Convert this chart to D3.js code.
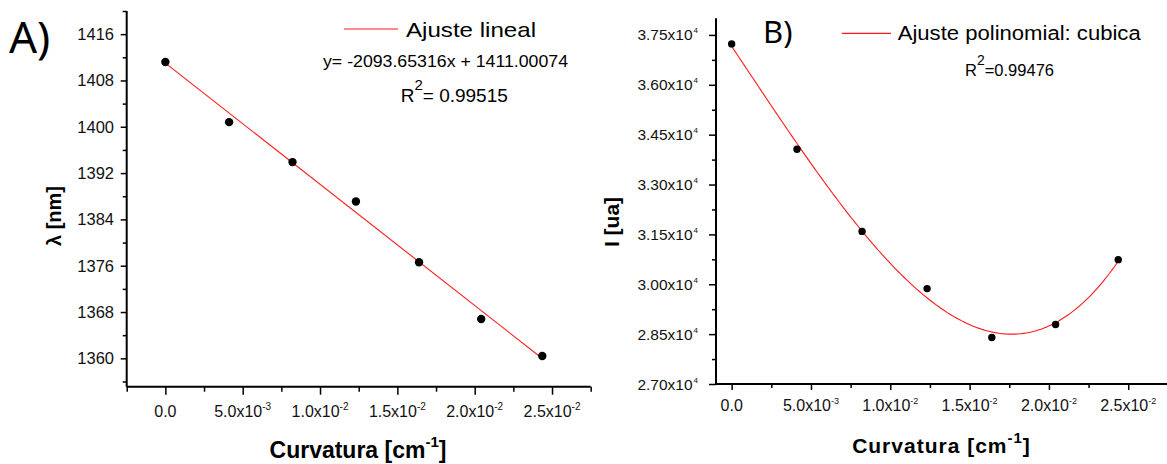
<!DOCTYPE html>
<html><head><meta charset="utf-8">
<script src="https://cdn.jsdelivr.net/npm/d3@7"></script>
<style>
html,body{margin:0;padding:0;background:#fff;}
svg{display:block;font-family:"Liberation Sans",Arial,sans-serif;}
</style></head>
<body>
<svg id="c" width="1167" height="464"></svg>
<script>
// ---------- data ----------
const curvature = [0, 0.00412, 0.00822, 0.01232, 0.01640, 0.02042, 0.02437];
const wavelength = [1411.2, 1400.8, 1393.9, 1387.1, 1376.6, 1366.8, 1360.4];
const intensity = [37230, 34060, 31590, 29870, 28400, 28790, 30740];
const linearSlope = -2093.65316;
const linearIntercept = 1411.00074;
const xTicks = [0, 0.005, 0.01, 0.015, 0.02, 0.025];
const yTicksA = [1360, 1368, 1376, 1384, 1392, 1400, 1408, 1416];
const yTicksB = [27000, 28500, 30000, 31500, 33000, 34500, 36000, 37500];
const legendA = "Ajuste lineal";
const equationA = "y= -2093.65316x + 1411.00074";
const r2A = "0.99515";
const legendB = "Ajuste polinomial: cubica";
const r2B = "0.99476";

const svg = d3.select("#c");
const red = "#ff1a1a";

// ---------- helpers ----------
function sciParts(v, digits){
  if (v === 0) return ["0.0", null];
  const e = Math.floor(Math.log10(Math.abs(v)) + 1e-9);
  const m = v / Math.pow(10, e);
  return [m.toFixed(digits) + "x10", (e < 0 ? "-" : "") + Math.abs(e)];
}
function supText(sel, main, sup, fs, supFs, supDy){
  sel.append("tspan").text(main);
  if (sup !== null){
    sel.append("tspan").attr("font-size", supFs).attr("dy", supDy).text(sup);
  }
}
function minorRange(a, b, step){
  const out = [];
  for (let v = a; v <= b + step*1e-6; v += step) out.push(+v.toFixed(8));
  return out;
}

// ================= Panel A =================
const xA = d3.scaleLinear().domain([-0.0025, 0.0275]).range([126.7, 590.7]);
const yA = d3.scaleLinear().domain([1355.1, 1420]).range([386.7, 11]);

const gA = svg.append("g");
gA.append("g").attr("transform","translate(126.7,0)")
  .call(d3.axisLeft(yA).tickValues(yTicksA).tickSize(6).tickFormat(""))
  .call(g=>g.select(".domain").attr("stroke-width",2).attr("d",`M0,${yA(1420)}V${yA(1355.1)}`))
  .call(g=>g.selectAll(".tick line").attr("stroke-width",1.5));
gA.append("g").attr("transform","translate(126.7,0)")
  .call(d3.axisLeft(yA).tickValues(minorRange(1356,1420,8)).tickSize(4).tickFormat(""))
  .call(g=>g.select(".domain").remove())
  .call(g=>g.selectAll(".tick line").attr("stroke-width",1.5));
gA.append("g").attr("transform","translate(0,386.7)")
  .call(d3.axisBottom(xA).tickValues(xTicks).tickSize(8).tickFormat(""))
  .call(g=>g.select(".domain").attr("stroke-width",2).attr("d",`M${xA(-0.0025)},0H${xA(0.0275)}`))
  .call(g=>g.selectAll(".tick line").attr("stroke-width",1.5));
gA.append("g").attr("transform","translate(0,386.7)")
  .call(d3.axisBottom(xA).tickValues(minorRange(-0.0025,0.0275,0.005)).tickSize(5).tickFormat(""))
  .call(g=>g.select(".domain").remove())
  .call(g=>g.selectAll(".tick line").attr("stroke-width",1.5));

gA.selectAll("text.yla").data(yTicksA).join("text")
  .attr("x",114).attr("y",d=>yA(d)+6).attr("text-anchor","end")
  .attr("font-size",16.5).attr("fill","#111").text(d=>d);
xTicks.forEach(v=>{
  const [m,e] = sciParts(v,1);
  const t = gA.append("text").attr("x",xA(v)).attr("y",417).attr("text-anchor","middle")
    .attr("font-size",16).attr("fill","#111");
  supText(t, m, e, 16, 10, -7);
});

gA.append("line")
  .attr("x1",xA(curvature[0])).attr("y1",yA(linearIntercept + linearSlope*curvature[0]))
  .attr("x2",xA(curvature[curvature.length-1])).attr("y2",yA(linearIntercept + linearSlope*curvature[curvature.length-1]))
  .attr("stroke",red).attr("stroke-width",1.1);
gA.selectAll("circle").data(curvature.map((c,i)=>[c,wavelength[i]])).join("circle")
  .attr("cx",d=>xA(d[0])).attr("cy",d=>yA(d[1])).attr("r",4.2).attr("fill","#000");

gA.append("line").attr("x1",344).attr("x2",398).attr("y1",29).attr("y2",29).attr("stroke",red).attr("stroke-width",1.2);
gA.append("text").attr("x",406).attr("y",36.7).attr("font-size",21).attr("textLength",130)
  .attr("lengthAdjust","spacingAndGlyphs").text(legendA);
gA.append("text").attr("x",323).attr("y",66.7).attr("font-size",16).attr("textLength",245)
  .attr("lengthAdjust","spacingAndGlyphs").text(equationA);
{
  const t = gA.append("text").attr("x",400.7).attr("y",101.7).attr("font-size",19);
  t.append("tspan").text("R");
  t.append("tspan").attr("font-size",15).attr("dy",-12).text("2");
  t.append("tspan").attr("dy",12).text("= " + r2A);
}
{
  const t = gA.append("text").attr("x",358).attr("y",458.3).attr("text-anchor","middle")
    .attr("font-size",23).attr("font-weight","bold");
  t.append("tspan").text("Curvatura [cm");
  t.append("tspan").attr("font-size",15).attr("dy",-11).text("-1");
  t.append("tspan").attr("dy",11).text("]");
}
gA.append("text").attr("transform","translate(61,216) rotate(-90)").attr("text-anchor","middle")
  .attr("font-size",20).attr("font-weight","bold").text("λ [nm]");
gA.append("text").attr("x",9).attr("y",53).attr("font-family","'Noto Sans',sans-serif")
  .attr("font-size",44).text("A)");

// ================= Panel B =================
const xB = d3.scaleLinear().domain([-0.00105, 0.0275]).range([715, 1167.9]);
const yB = d3.scaleLinear().domain([27000, 38000]).range([384, 18.3]);
const gB = svg.append("g");
gB.append("g").attr("transform","translate(716,0)")
  .call(d3.axisLeft(yB).tickValues(yTicksB).tickSize(7).tickFormat(""))
  .call(g=>g.select(".domain").attr("stroke-width",2).attr("d",`M0,${yB(38000)}V${yB(27000)}`))
  .call(g=>g.selectAll(".tick line").attr("stroke-width",1.5));
gB.append("g").attr("transform","translate(716,0)")
  .call(d3.axisLeft(yB).tickValues(minorRange(27750,36750,1500)).tickSize(4).tickFormat(""))
  .call(g=>g.select(".domain").remove())
  .call(g=>g.selectAll(".tick line").attr("stroke-width",1.5));
gB.append("g").attr("transform","translate(0,384)")
  .call(d3.axisBottom(xB).tickValues(xTicks).tickSize(6).tickFormat(""))
  .call(g=>g.select(".domain").attr("stroke-width",2).attr("d",`M${xB(-0.00105)},0H1167`))
  .call(g=>g.selectAll(".tick line").attr("stroke-width",1.5));
gB.append("g").attr("transform","translate(0,384)")
  .call(d3.axisBottom(xB).tickValues(minorRange(0.0025,0.0275,0.005)).tickSize(4).tickFormat(""))
  .call(g=>g.select(".domain").remove())
  .call(g=>g.selectAll(".tick line").attr("stroke-width",1.5));

yTicksB.forEach(v=>{
  const [m,e] = sciParts(v,2);
  const t = gB.append("text").attr("x",698).attr("y",yB(v)+5.5).attr("text-anchor","end")
    .attr("font-size",15.5).attr("fill","#111");
  supText(t, m, e, 15.5, 8, -7);
  t.select("tspan:last-child").attr("dx",1);
});
xTicks.forEach(v=>{
  const [m,e] = sciParts(v,1);
  const t = gB.append("text").attr("x",xB(v)).attr("y",410.5).attr("text-anchor","middle")
    .attr("font-size",16).attr("fill","#111");
  supText(t, m, e, 16, 9, -7);
});

// cubic least-squares fit computed from the data
function cubicFit(xs, ys){
  const s = 100;
  const n = 4, A = Array.from({length:n},()=>Array(n+1).fill(0));
  xs.forEach((x0,i)=>{
    const x = x0*s, p = [1,x,x*x,x*x*x];
    for(let r=0;r<n;r++){ for(let c=0;c<n;c++) A[r][c]+=p[r]*p[c]; A[r][n]+=p[r]*ys[i]; }
  });
  for(let i=0;i<n;i++){
    let mx=i; for(let r=i+1;r<n;r++) if(Math.abs(A[r][i])>Math.abs(A[mx][i])) mx=r;
    [A[i],A[mx]]=[A[mx],A[i]];
    for(let r=0;r<n;r++){ if(r===i) continue; const f=A[r][i]/A[i][i]; for(let c=i;c<=n;c++) A[r][c]-=f*A[i][c]; }
  }
  const coef = A.map((row,i)=>row[n]/row[i]);
  return x0 => { const x=x0*s; return coef[0]+coef[1]*x+coef[2]*x*x+coef[3]*x*x*x; };
}
const fB = cubicFit(curvature, intensity);
const xs = d3.range(0, 201).map(i=>curvature[0] + (curvature[curvature.length-1]-curvature[0])*i/200);
gB.append("path").attr("d", d3.line().x(d=>xB(d)).y(d=>yB(fB(d)))(xs))
  .attr("fill","none").attr("stroke",red).attr("stroke-width",1.1);
gB.selectAll("circle").data(curvature.map((c,i)=>[c,intensity[i]])).join("circle")
  .attr("cx",d=>xB(d[0])).attr("cy",d=>yB(d[1])).attr("r",3.7).attr("fill","#000");

gB.append("line").attr("x1",841.7).attr("x2",891).attr("y1",33.3).attr("y2",33.3).attr("stroke",red).attr("stroke-width",1.2);
gB.append("text").attr("x",897.7).attr("y",40).attr("font-size",20).attr("textLength",243)
  .attr("lengthAdjust","spacingAndGlyphs").text(legendB);
{
  const t = gB.append("text").attr("x",965).attr("y",76).attr("font-size",16.5);
  t.append("tspan").text("R");
  t.append("tspan").attr("font-size",14).attr("dy",-11).text("2");
  t.append("tspan").attr("dy",11).text("=" + r2B);
}
{
  const t = gB.append("text").attr("x",941.5).attr("y",453.3).attr("text-anchor","middle")
    .attr("font-size",21).attr("font-weight","bold").attr("letter-spacing",1);
  t.append("tspan").text("Curvatura [cm");
  t.append("tspan").attr("font-size",15).attr("dy",-10).text("-1");
  t.append("tspan").attr("dy",10).text("]");
}
gB.append("text").attr("transform","translate(619,222) rotate(-90)").attr("text-anchor","middle")
  .attr("font-size",21).attr("font-weight","bold").text("I [ua]");
gB.append("text").attr("x",763).attr("y",43).attr("font-family","'Noto Sans',sans-serif")
  .attr("font-size",31).text("B)");
</script>
</body></html>
